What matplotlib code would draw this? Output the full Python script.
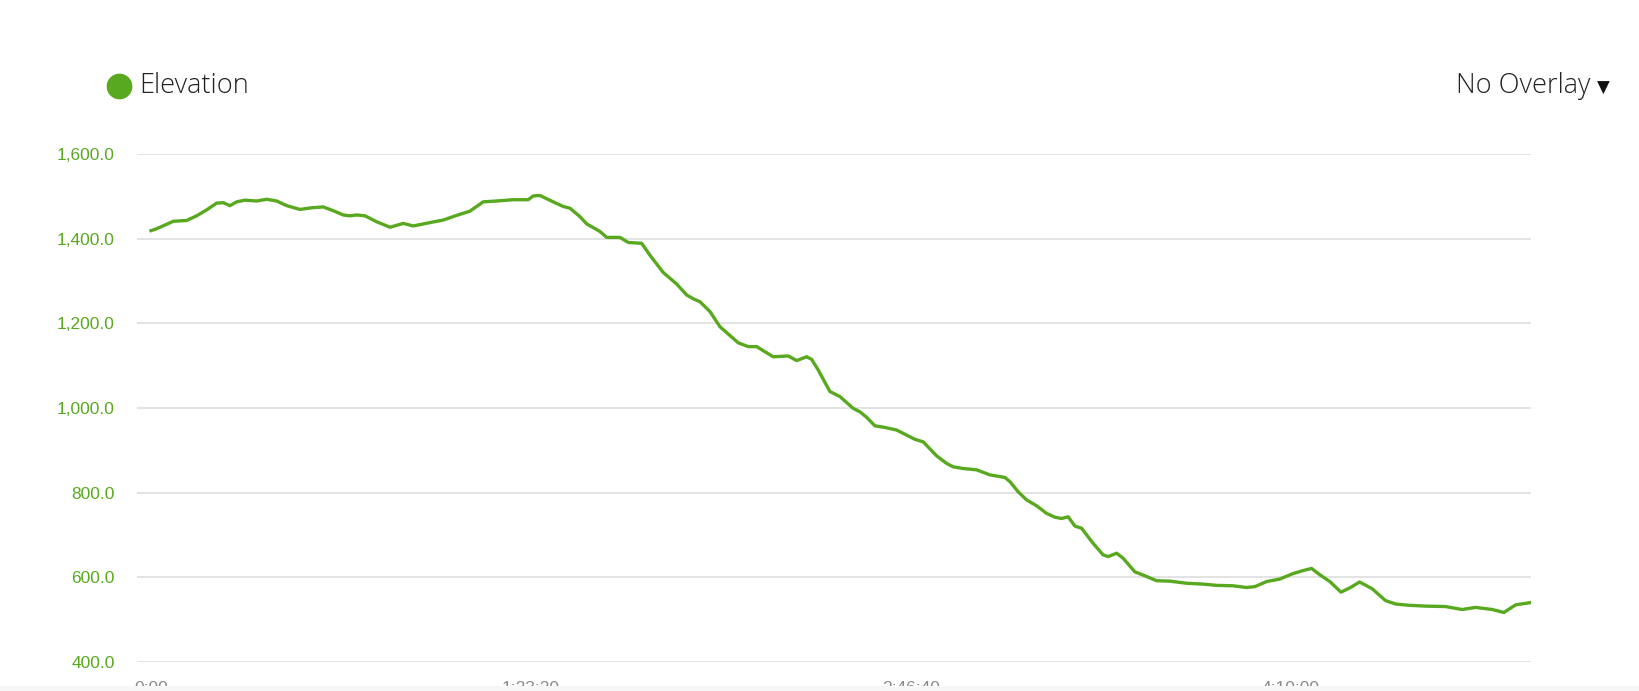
import matplotlib
matplotlib.use("Agg")
import matplotlib.pyplot as plt
from matplotlib.lines import Line2D
from matplotlib.patches import Rectangle
from matplotlib.ticker import FuncFormatter

# elapsed time (s) and elevation (m)
time_s = [0, 53, 118, 293, 470, 601, 733, 864, 951, 1039, 1128, 1237, 1391, 1522,
          1654, 1786, 1961, 2114, 2267, 2399, 2530, 2618, 2707, 2816, 2970, 3145,
          3320, 3451, 3671, 3846, 4022, 4197, 4372, 4549, 4767, 4964, 5030, 5118,
          5293, 5425, 5513, 5645, 5733, 5908, 5996, 6171, 6280, 6457, 6566, 6741,
          6917, 7049, 7136, 7224, 7355, 7487, 7575, 7728, 7859, 7970, 8188, 8386,
          8496, 8628, 8693, 8780, 8934, 9066, 9241, 9329, 9417, 9526, 9658, 9812,
          9943, 10053, 10162, 10338, 10470, 10557, 10688, 10864, 11039, 11237,
          11303, 11412, 11522, 11654, 11786, 11895, 11983, 12070, 12158, 12246,
          12399, 12530, 12596, 12707, 12793, 12947, 13101, 13233, 13408, 13628,
          13846, 14022, 14241, 14417, 14526, 14680, 14855, 15030, 15162, 15272,
          15382, 15513, 15659, 15786, 15904, 16070, 16246, 16378, 16553, 16772,
          17036, 17254, 17430, 17649, 17803, 17957, 18066, 18141]
elev_m = [1419, 1422, 1427, 1441, 1443, 1454, 1468, 1484, 1485, 1478, 1487, 1491,
          1489, 1493, 1489, 1478, 1469, 1473, 1475, 1466, 1456, 1454, 1456, 1454,
          1440, 1427, 1436, 1430, 1438, 1444, 1455, 1465, 1487, 1489, 1492, 1492,
          1501, 1502, 1487, 1476, 1472, 1452, 1435, 1417, 1403, 1403, 1391, 1389,
          1361, 1320, 1293, 1267, 1258, 1251, 1228, 1192, 1178, 1154, 1145, 1145,
          1121, 1123, 1112, 1121, 1115, 1090, 1039, 1027, 999, 991, 978, 958, 954,
          948, 936, 926, 920, 887, 869, 861, 857, 854, 842, 836, 826, 802, 783,
          769, 751, 742, 739, 743, 721, 716, 680, 653, 649, 657, 645, 613, 602,
          592, 591, 586, 584, 581, 580, 576, 578, 590, 596, 609, 616, 621, 606,
          590, 565, 576, 589, 573, 545, 537, 534, 532, 531, 524, 529, 524, 517,
          535, 538, 540]

y_ticks = [400, 600, 800, 1000, 1200, 1400, 1600]
x_ticks = [0, 5000, 10000, 15000]
x_labels = ["0:00", "1:23:20", "2:46:40", "4:10:00"]

green = "#58a91f"
W, H = 1639, 691

fig = plt.figure(figsize=(W / 100, H / 100), dpi=100)
ax = fig.add_axes([137 / W, 1 - 662 / H, 1394 / W, 508 / H])

ax.plot(time_s, elev_m, color=green, lw=2.4, solid_joinstyle="round")

ax.set_xlim(-184, 18160)
ax.set_ylim(400, 1600)
ax.set_yticks(y_ticks)
ax.yaxis.set_major_formatter(FuncFormatter(lambda v, p: f"{v:,.1f}"))
ax.set_xticks(x_ticks)
ax.set_xticklabels(x_labels)
ax.grid(axis="y", color="#dedede", lw=1.2)
ax.set_axisbelow(True)
for s in ax.spines.values():
    s.set_visible(False)
ax.tick_params(axis="y", length=0, pad=16, labelsize=12.5, labelcolor=green)
ax.tick_params(axis="x", length=0, pad=13.5, labelsize=12.5, labelcolor="#8a8a8a")
for lab in ax.get_yticklabels() + ax.get_xticklabels():
    lab.set_family(["Liberation Sans", "DejaVu Sans"])

# legend dot + title
fig.add_artist(Line2D([119 / W], [1 - 86 / H], marker="o", markersize=17.5,
                      color=green, transform=fig.transFigure))
fig.text(139 / W, 1 - 86 / H, "Elevation", va="center", ha="left",
         fontsize=19.5, color="#222222", family=["Open Sans", "DejaVu Sans"],
         fontweight="light")
fig.text(1591 / W, 1 - 86 / H, "No Overlay", va="center", ha="right",
         fontsize=19.5, color="#222222", family=["Open Sans", "DejaVu Sans"],
         fontweight="light")
fig.text(1603 / W, 1 - 88 / H, "▼", va="center", ha="center",
         fontsize=12, color="#111111", family="DejaVu Sans")

# bottom strip that clips the time labels
fig.add_artist(Rectangle((0, 0), 1, 5 / H, transform=fig.transFigure,
                         facecolor="#f7f7f7", edgecolor="none", zorder=10))

fig.savefig("out.png", dpi=100)
